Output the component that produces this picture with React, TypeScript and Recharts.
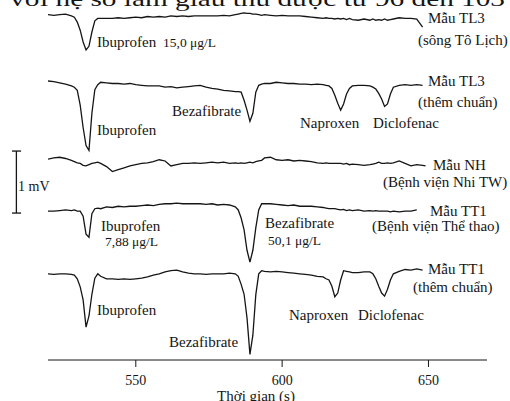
import React from 'react';
import { LineChart, Line, XAxis, YAxis, ReferenceLine } from 'recharts';

// Migration time (s)
const times = [
  520, 522, 524, 526, 528, 529, 530, 531, 532, 533, 534, 535, 536, 537, 538, 540, 542, 544, 546, 548,
  550, 552, 554, 556, 558, 560, 562, 564, 566, 568, 570, 572, 574, 576, 578, 580, 582, 584, 585, 586,
  587, 588, 589, 590, 591, 592, 593, 594, 596, 598, 600, 602, 604, 606, 608, 610, 612, 614, 615, 616,
  617, 618, 619, 620, 621, 622, 623, 624, 626, 628, 630, 631, 632, 633, 634, 635, 636, 637, 638, 640,
  642, 644, 646, 648, 649,
];

// Signals (mV, relative to each trace baseline)
const tl3River = [
  0.04, 0.03, 0.04, 0.05, 0.02, 0, -0.08, -0.21, -0.4, -0.53, -0.47, -0.24, -0.06, -0.02, -0.02, -0.02, -0.02, -0.01, -0.02, -0.01,
  0, -0.01, 0.01, 0, 0.01, 0, 0.02, 0.01, 0.02, 0.01, 0.02, 0.02, 0.02, 0.02, 0.02, 0.03, 0.02, 0.04, 0.05, 0.06,
  0.07, 0.06, 0.06, 0.05, 0.05, 0.04, 0.03, 0.04, 0.03, 0.02, 0.03, 0.02, 0.02, 0.02, 0.01, 0, -0.01, -0.02, -0.01, -0.02,
  -0.02, -0.03, -0.02, -0.03, -0.02, -0.04, -0.02, -0.04, -0.05, -0.03, -0.05, -0.03, -0.05, -0.04, -0.05, -0.03, -0.05, -0.04, -0.03, -0.01,
  -0.02, -0.02, -0.03, -0.16, null,
];
const tl3Spiked = [
  0.02, 0.01, -0.01, -0.03, -0.06, -0.08, -0.13, -0.37, -0.73, -1.02, -1.1, -0.5, -0.12, -0.04, 0, -0.01, -0.02, -0.02, -0.03, -0.02,
  -0.04, -0.05, -0.06, -0.06, -0.06, -0.08, -0.07, -0.09, -0.08, -0.07, -0.06, -0.05, -0.08, -0.1, -0.11, -0.13, -0.14, -0.15, -0.15, -0.16,
  -0.29, -0.45, -0.63, -0.5, -0.16, -0.05, -0.03, -0.02, -0.02, 0, -0.01, -0.02, -0.02, -0.03, -0.03, -0.04, -0.03, -0.04, -0.05, -0.06,
  -0.1, -0.21, -0.34, -0.45, -0.35, -0.19, -0.1, -0.06, -0.05, -0.05, -0.06, -0.08, -0.11, -0.18, -0.27, -0.39, -0.35, -0.19, -0.08, -0.05,
  -0.04, -0.05, -0.04, -0.05, null,
];
const nhSample = [
  0.01, 0.03, 0.04, 0.02, -0.01, -0.03, -0.05, -0.06, -0.09, -0.1, -0.08, -0.06, -0.05, -0.04, -0.06, -0.11, -0.19, -0.16, -0.13, -0.1,
  -0.08, -0.06, -0.05, -0.03, 0, -0.02, -0.1, -0.08, -0.06, -0.06, -0.05, -0.06, -0.05, -0.04, -0.05, -0.04, -0.06, -0.05, -0.06, -0.05,
  -0.06, -0.05, -0.04, -0.05, -0.03, -0.02, -0.01, 0.03, 0.04, 0, -0.01, 0, -0.02, -0.01, -0.02, -0.03, -0.05, -0.06, -0.05, -0.06,
  -0.06, -0.06, -0.06, -0.06, -0.07, -0.06, -0.08, -0.07, -0.08, -0.09, -0.08, -0.07, -0.06, -0.04, -0.06, -0.06, -0.05, -0.06, -0.05, -0.02,
  -0.06, -0.1, -0.08, -0.09, -0.1,
];
const tt1Sample = [
  -0.02, -0.02, -0.01, 0, -0.01, 0, -0.02, -0.02, -0.1, -0.39, -0.44, -0.06, 0.02, 0.03, 0.02, 0.05, 0.04, 0.06, 0.05, 0.06,
  0.06, 0.07, 0.08, 0.07, 0.09, 0.1, 0.1, 0.11, 0.1, 0.1, 0.1, 0.1, 0.09, 0.1, 0.08, 0.09, 0.08, 0.05, 0, -0.13,
  -0.32, -0.65, -0.84, -0.65, -0.29, 0, 0.1, 0.1, 0.1, 0.09, 0.08, 0.07, 0.08, 0.06, 0.06, 0.06, 0.05, 0.04, 0.03, 0.02,
  0.02, 0.02, 0.01, 0, 0.01, -0.01, 0, -0.01, 0, -0.02, -0.01, -0.02, -0.01, -0.02, -0.02, -0.02, -0.02, -0.03, -0.02, -0.03,
  -0.02, -0.02, 0, null, null,
];
const tt1Spiked = [
  0.02, 0.01, 0.02, 0.02, 0.01, 0, -0.06, -0.19, -0.4, -0.84, -0.66, -0.31, -0.05, 0.02, -0.02, -0.06, -0.06, -0.07, -0.06, -0.07,
  -0.06, -0.05, -0.03, 0, 0.02, 0.05, 0.07, 0.08, 0.05, 0.03, 0.02, 0.02, 0.01, 0.02, 0.02, 0.02, 0.03, 0.02, -0.02, -0.15,
  -0.31, -0.69, -1.28, -0.97, -0.32, 0.02, 0.07, 0.06, 0.05, 0.06, 0.05, 0.04, 0.03, 0.02, 0.01, 0, -0.02, -0.03, -0.06, -0.08,
  -0.18, -0.35, -0.29, -0.08, 0.07, 0.06, 0.05, 0.04, 0.04, 0.05, 0.05, 0.02, -0.06, -0.18, -0.29, -0.34, -0.23, -0.08, 0.02, 0.06,
  0.09, 0.08, 0.1, 0.08, null,
];

// Vertical placement of each trace (mV)
const traceOffsets = [5.53, 4.48, 3.23, 2.42, 1.37];
const xTicks = [550, 600, 650];
const scaleBarMv = [2.37, 3.37];

const traces = [tl3River, tl3Spiked, nhSample, tt1Sample, tt1Spiked];
const data = times.map((t, i) => {
  const row: Record<string, number | null> = { t };
  traces.forEach((s, k) => {
    row['s' + k] = s[i] == null ? null : (s[i] as number) + traceOffsets[k];
  });
  return row;
});

const FONT = '"Liberation Serif", "Times New Roman", serif';
const INK = '#151515';

const annotations: { text: string; x: number; y: number; size?: number; anchor?: 'start' | 'middle' }[] = [
  { text: 'Ibuprofen', x: 97, y: 42 },
  { text: '15,0 μg/L', x: 163, y: 42, size: 13.5 },
  { text: 'Mẫu TL3', x: 428, y: 18 },
  { text: '(sông Tô Lịch)', x: 418, y: 40 },
  { text: 'Bezafibrate', x: 172, y: 111 },
  { text: 'Ibuprofen', x: 97, y: 130 },
  { text: 'Naproxen', x: 300, y: 123 },
  { text: 'Diclofenac', x: 373, y: 123 },
  { text: 'Mẫu TL3', x: 428, y: 81 },
  { text: '(thêm chuẩn)', x: 418, y: 102 },
  { text: 'Mẫu NH', x: 433, y: 165 },
  { text: '(Bệnh viện Nhi TW)', x: 383, y: 182 },
  { text: '1 mV', x: 18, y: 186, size: 14 },
  { text: 'Mẫu TT1', x: 430, y: 211 },
  { text: '(Bệnh viện Thể thao)', x: 372, y: 226 },
  { text: 'Ibuprofen', x: 101, y: 226 },
  { text: '7,88 μg/L', x: 105, y: 241.5, size: 13.5 },
  { text: 'Bezafibrate', x: 265, y: 223 },
  { text: '50,1 μg/L', x: 268, y: 240, size: 13.5 },
  { text: 'Mẫu TT1', x: 428, y: 269 },
  { text: '(thêm chuẩn)', x: 413, y: 287 },
  { text: 'Ibuprofen', x: 97, y: 310 },
  { text: 'Bezafibrate', x: 169, y: 342 },
  { text: 'Naproxen', x: 289, y: 315 },
  { text: 'Diclofenac', x: 358, y: 315 },
  { text: 'Thời gian (s)', x: 256, y: 395.5, anchor: 'middle' },
];

export default function App() {
  return (
    <div style={{ position: 'absolute', left: 0, top: 0, width: 510, height: 401, overflow: 'hidden', background: '#fff' }}>
      <LineChart width={510} height={401} data={data} margin={{ top: 0, right: 23, bottom: 0, left: 48 }}>
        <XAxis
          dataKey="t"
          type="number"
          domain={[520, 670]}
          ticks={xTicks}
          height={41}
          stroke={INK}
          tickSize={7}
          tickMargin={8}
          tick={{ fill: INK, fontSize: 14, fontFamily: FONT }}
          allowDataOverflow
        />
        <YAxis hide type="number" domain={[0, 360 / 62]} allowDataOverflow />
        {traces.map((_, k) => (
          <Line
            key={k}
            dataKey={'s' + k}
            type="linear"
            stroke={INK}
            strokeWidth={1.3}
            dot={false}
            activeDot={false}
            isAnimationActive={false}
          />
        ))}
        <ReferenceLine
          segment={[{ x: 509.2, y: scaleBarMv[0] }, { x: 509.2, y: scaleBarMv[1] }]}
          stroke={INK}
          strokeWidth={1.3}
          ifOverflow="visible"
        />
        <ReferenceLine
          segment={[{ x: 507.7, y: scaleBarMv[0] }, { x: 510.8, y: scaleBarMv[0] }]}
          stroke={INK}
          strokeWidth={1.3}
          ifOverflow="visible"
        />
        <ReferenceLine
          segment={[{ x: 507.7, y: scaleBarMv[1] }, { x: 510.8, y: scaleBarMv[1] }]}
          stroke={INK}
          strokeWidth={1.3}
          ifOverflow="visible"
        />
      </LineChart>
      <svg width={510} height={401} style={{ position: 'absolute', left: 0, top: 0, pointerEvents: 'none' }}>
        <text x={10} y={5.5} fontSize={22} fontFamily={FONT} fill={INK} textLength={495} lengthAdjust="spacingAndGlyphs">
          với hệ số làm giàu thu được từ 96 đến 103
        </text>
        {annotations.map((a, i) => (
          <text
            key={i}
            x={a.x}
            y={a.y}
            fontSize={a.size ?? 15}
            fontFamily={FONT}
            fill={INK}
            dominantBaseline="central"
            textAnchor={a.anchor ?? 'start'}
          >
            {a.text}
          </text>
        ))}
      </svg>
    </div>
  );
}
